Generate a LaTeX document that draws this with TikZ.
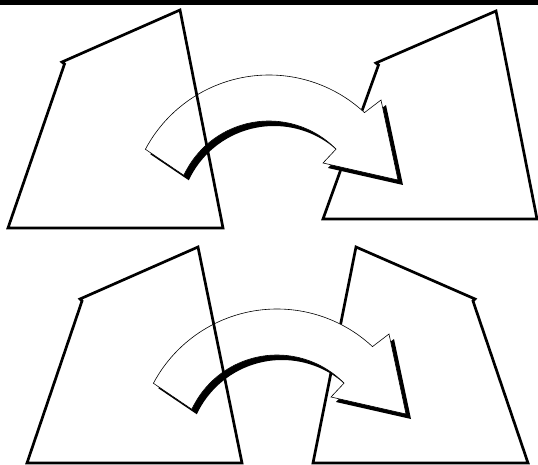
\documentclass[tikz,border=0pt]{standalone}
\usetikzlibrary{calc}

% outline of the bent arrow, round its centre
\newcommand{\bentoutline}{%
  (152:140) arc[start angle=152, end angle=47, radius=140]
  -- (112,115) -- (129,35) -- (54,52) -- (44.5:94)
  arc[start angle=44.5, end angle=155, radius=94] -- cycle}

\tikzset{
  frame/.style={draw=black, line width=2.7pt},
  bent arrow/.pic={
    \fill[black, shift={(5,-5)}] \bentoutline;
    \filldraw[fill=white, draw=black, line width=0.6pt] \bentoutline;
  }
}

\begin{document}
\begin{tikzpicture}[x=1pt, y=1pt]
    \useasboundingbox (0,0) rectangle (538,464);
    \fill[black] (0,459) rectangle (538,464);

    \coordinate (topcentre) at (269,249);
    \coordinate (bottomcentre) at (277,15);

    % top row
    \draw[frame] (496,453) -- (376,401) -- (378.5,399) -- (323,245) -- (537,245) -- cycle;
    \pic at (topcentre) {bent arrow};
    \draw[frame] (180,454) -- (62,402) -- (64.5,400) -- (8,236) -- (223,236) -- cycle;

    % bottom row
    \draw[frame] (356,217) -- (475,165) -- (473,163) -- (528,1) -- (313,1) -- cycle;
    \pic at (bottomcentre) {bent arrow};
    \draw[frame] (198,217) -- (80,165) -- (82,163) -- (27,1) -- (242,1) -- cycle;
  \end{tikzpicture}
\end{document}
